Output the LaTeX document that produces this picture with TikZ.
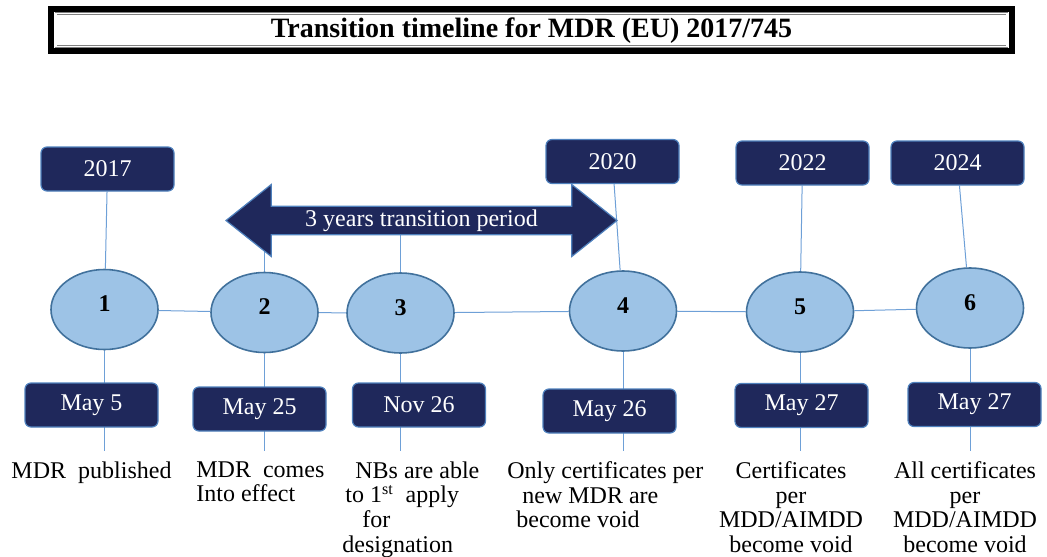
\documentclass[tikz,border=0pt]{standalone}
\usepackage{fontspec}
\setmainfont{Liberation Serif}
\usetikzlibrary{shapes.geometric,shapes.arrows,backgrounds}
\definecolor{tlNavy}{RGB}{31,40,91}
\definecolor{tlEdge}{RGB}{79,129,189}
\definecolor{tlDisc}{RGB}{157,195,230}
\definecolor{tlDiscEdge}{RGB}{65,113,156}
\definecolor{tlLine}{RGB}{110,160,215}

\begin{document}
\begin{tikzpicture}[x=0.5pt,y=-0.5pt,
  tag/.style={draw=tlEdge,line width=0.6pt,fill=tlNavy,rounded corners=3pt,text=white,
    minimum width=66.5pt,minimum height=22pt,inner sep=0pt,font=\fontsize{12}{12}\selectfont},
  disc/.style={ellipse,draw=tlDiscEdge,line width=0.8pt,fill=tlDisc,minimum width=53.5pt,
    minimum height=40pt,inner sep=0pt,font=\bfseries\fontsize{12}{12}\selectfont},
  note/.style={anchor=north,inner xsep=0pt,inner ysep=5pt,font=\fontsize{12}{12.4}\selectfont},
  link/.style={draw=tlLine,line width=0.5pt}]
  \useasboundingbox (0,0) rectangle (1047,556);
  % title frame
  \draw[line width=3pt] (51,9) rectangle (1012,51);
  \draw[gray,line width=0.3pt,double=white,double distance=0.6pt] (56,13.5) rectangle (1007,46.5);
  \node[font=\bfseries\fontsize{14}{14}\selectfont] (title) at (531.5,31) {Transition timeline for MDR (EU) 2017/745};

  % milestones
  \foreach \n/\xc/\yc in {1/104.5/309.5,2/264.5/312.5,3/400.5/313,4/623/311,5/800/312,6/970/308}
    \node[disc] (c\n) at (\xc,\yc) {\raisebox{5.5pt}{\n}};
  % years
  \foreach \n/\xc/\yc/\lab in {1/107.5/169/2017,4/612.5/161.5/2020,5/802.5/163/2022,6/957.5/163/2024}
    \node[tag] (y\n) at (\xc,\yc) {\lab};
  % dates
  \foreach \n/\xc/\yc/\lab in {1/91.5/405/May 5,2/259.5/409/May 25,3/419/405/Nov 26,
      4/609.5/411/May 26,5/801.5/405.5/May 27,6/974.5/404.5/May 27}
    \node[tag] (d\n) at (\xc,\yc) {\lab};

  \node[double arrow,double arrow head extend=8.75pt,double arrow tip angle=77,
    minimum height=195.5pt,minimum width=36pt,inner sep=0pt,
    fill=tlNavy,draw=tlEdge,line width=0.6pt,text=white,font=\fontsize{12}{12}\selectfont]
    (span) at (421.5,220.5) {3 years transition period};

  % what happens
  \node[note] (t1) at (91.5,451) {MDR\ \ published};
  \node[note,anchor=north west,align=left] (t2) at (196,451) {MDR\ \ comes\\Into effect};
  \node[note,anchor=north west,align=left] (t3) at (342,451)
    {\hspace*{6.5pt}NBs are able\\\hspace*{1.5pt}to 1\textsuperscript{st}\ \ apply\\\hspace*{10pt}for\\designation};
  \node[note,anchor=north west,align=left] (t4) at (507,451)
    {Only certificates per\\\hspace*{7.5pt}new MDR are\\\hspace*{4.5pt}become void};
  \node[note,align=center] (t5) at (791,451) {Certificates\\per\\MDD/AIMDD\\become void};
  \node[note,align=center] (t6) at (965,451) {All certificates\\per\\MDD/AIMDD\\become void};

  \begin{scope}[on background layer]
    \foreach \a/\b in {1/2,2/3,3/4,4/5,5/6}
      \draw[link] (c\a) -- (c\b);
    \foreach \n in {1,4,5,6}
      \draw[link] (y\n) -- (c\n);
    \foreach \n in {2,3}
      \draw[link] (c\n) -- (c\n |- span);
    \foreach \n in {1,...,6}
      \draw[link] (c\n) -- (c\n |- d\n) -- (c\n |- t\n.north);
  \end{scope}
\end{tikzpicture}
\end{document}
